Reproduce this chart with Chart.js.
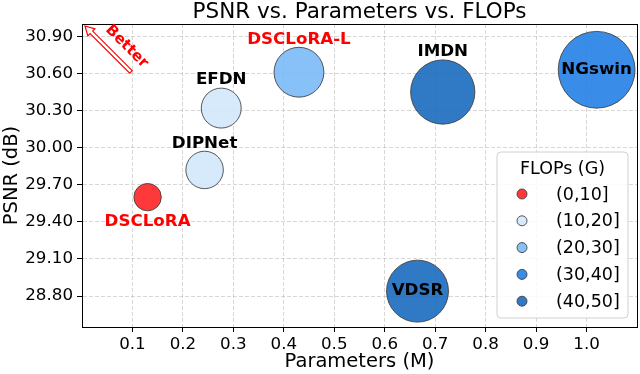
<!DOCTYPE html>
<html lang="en">
<head>
    <meta charset="UTF-8">
    <title>PSNR vs. Parameters vs. FLOPs</title>
    <script src="https://cdn.jsdelivr.net/npm/chart.js"></script>
    <style>
        body { margin: 0; background: white; }
        canvas { display: block; }
    </style>
</head>
<body>
    <canvas id="bubbleChart" width="640" height="374"></canvas>

    <script>
        // Models, parameters (M), PSNR (dB) and FLOPs bin index
        const models = ['DSCLoRA', 'DIPNet', 'EFDN', 'DSCLoRA-L', 'IMDN', 'NGswin', 'VDSR'];
        const params = [0.13, 0.243, 0.276, 0.43, 0.715, 1.02, 0.665];
        const psnr = [29.60, 29.82, 30.32, 30.61, 30.45, 30.63, 28.84];
        const modelBin = [0, 1, 1, 2, 4, 3, 4];

        const flopBins = ['(0,10]', '(10,20]', '(20,30]', '(30,40]', '(40,50]'];
        const xTicks = [0.1, 0.2, 0.3, 0.4, 0.5, 0.6, 0.7, 0.8, 0.9, 1.0];
        const yTicks = [28.80, 29.10, 29.40, 29.70, 30.00, 30.30, 30.60, 30.90];

        // styling
        const binColors = [
            'rgba(255,36,36,0.9)',
            'rgba(209,232,251,0.9)',
            'rgba(123,185,247,0.9)',
            'rgba(36,129,230,0.9)',
            'rgba(25,106,191,0.9)'
        ];
        const ourModels = ['DSCLoRA', 'DSCLoRA-L'];
        const labelPlace = { 'DSCLoRA': 'below', 'NGswin': 'center', 'VDSR': 'center' };
        const edgeColor = 'rgba(60,60,60,0.85)';
        const FONT = "'DejaVu Sans', sans-serif";
        Chart.defaults.font.family = FONT;
        Chart.defaults.color = 'black';

        // bubble radius grows with the parameter count
        const radiusOf = p => 38 * Math.sqrt(p);

        const datasets = flopBins.map((bin, b) => ({
            label: bin,
            data: models.map((m, i) => i).filter(i => modelBin[i] === b)
                .map(i => ({ x: params[i], y: psnr[i], r: radiusOf(params[i]) })),
            backgroundColor: binColors[b],
            borderColor: edgeColor,
            borderWidth: 1
        }));

        // labels next to / inside the bubbles
        const bubbleLabels = {
            id: 'bubbleLabels',
            afterDatasetsDraw(chart) {
                const ctx = chart.ctx;
                const xs = chart.scales.x, ys = chart.scales.y;
                ctx.save();
                ctx.font = 'bold 16.7px ' + FONT;
                ctx.textAlign = 'center';
                ctx.textBaseline = 'middle';
                models.forEach((m, i) => {
                    const px = xs.getPixelForValue(params[i]);
                    const py = ys.getPixelForValue(psnr[i]);
                    const r = radiusOf(params[i]);
                    const place = labelPlace[m] || 'above';
                    let ty = py;
                    if (place === 'above') ty = py - r - 8;
                    if (place === 'below') ty = py + r + 11;
                    ctx.fillStyle = ourModels.includes(m) ? 'red' : 'black';
                    ctx.fillText(m, px, ty);
                });
                ctx.restore();
            }
        };

        // frame, "Better" arrow and the FLOPs legend
        const decorations = {
            id: 'decorations',
            afterDraw(chart) {
                const ctx = chart.ctx;
                const a = chart.chartArea;
                ctx.save();
                ctx.strokeStyle = 'black';
                ctx.lineWidth = 1;
                ctx.strokeRect(a.left + 0.5, a.top + 0.5, a.right - a.left, a.bottom - a.top);

                // hollow arrow pointing to the upper left
                ctx.translate(a.left + 3, a.top + 2);
                ctx.rotate(Math.PI / 4);
                const len = 65, hw = 1.8, headW = 5, headL = 9;
                ctx.beginPath();
                ctx.moveTo(0, 0);
                ctx.lineTo(headL, -headW);
                ctx.lineTo(headL, -hw);
                ctx.lineTo(len, -hw);
                ctx.lineTo(len, hw);
                ctx.lineTo(headL, hw);
                ctx.lineTo(headL, headW);
                ctx.closePath();
                ctx.fillStyle = 'white';
                ctx.fill();
                ctx.strokeStyle = 'red';
                ctx.lineWidth = 1.2;
                ctx.stroke();
                ctx.font = 'bold 15px ' + FONT;
                ctx.fillStyle = 'red';
                ctx.textAlign = 'center';
                ctx.textBaseline = 'middle';
                ctx.fillText('Better', 44, -15);
                ctx.setTransform(1, 0, 0, 1, 0, 0);

                // legend box
                const lx = 497, ly = 152, lw = 131, lh = 166;
                ctx.beginPath();
                ctx.roundRect(lx, ly, lw, lh, 4);
                ctx.fillStyle = 'rgba(255,255,255,0.85)';
                ctx.fill();
                ctx.strokeStyle = '#d0d0d0';
                ctx.lineWidth = 1;
                ctx.stroke();
                ctx.font = '17.5px ' + FONT;
                ctx.fillStyle = 'black';
                ctx.textAlign = 'center';
                ctx.textBaseline = 'middle';
                ctx.fillText('FLOPs (G)', lx + lw / 2, ly + 17);
                ctx.textAlign = 'left';
                flopBins.forEach((bin, b) => {
                    const y = 194 + b * 26.8;
                    ctx.beginPath();
                    ctx.arc(522, y, 5, 0, Math.PI * 2);
                    ctx.fillStyle = binColors[b];
                    ctx.fill();
                    ctx.strokeStyle = edgeColor;
                    ctx.stroke();
                    ctx.fillStyle = 'black';
                    ctx.fillText(bin, 556, y + 1);
                });
                ctx.restore();
            }
        };

        const gridStyle = {
            color: 'rgba(170,170,170,0.6)',
            lineWidth: 0.8,
            tickLength: 5,
            tickColor: 'black',
            tickWidth: 1
        };

        new Chart(document.getElementById('bubbleChart'), {
            type: 'bubble',
            data: { datasets: datasets },
            options: {
                responsive: false,
                animation: false,
                layout: { autoPadding: false, padding: { left: 0, right: 3, top: 0, bottom: 0 } },
                plugins: {
                    legend: { display: false },
                    tooltip: { enabled: false },
                    title: {
                        display: true,
                        text: 'PSNR vs. Parameters vs. FLOPs',
                        fullSize: false,
                        color: 'black',
                        font: { size: 21.5, weight: 'normal', lineHeight: 1.0 },
                        padding: { top: 2, bottom: 0.5 }
                    }
                },
                scales: {
                    x: {
                        type: 'linear',
                        min: 0,
                        max: 1.1,
                        afterBuildTicks: s => { s.ticks = xTicks.map(v => ({ value: v })); },
                        afterFit: s => { s.height = 47; },
                        ticks: {
                            font: { size: 16.7 },
                            color: 'black',
                            padding: 3,
                            maxRotation: 0,
                            callback: v => Number(v).toFixed(1)
                        },
                        grid: gridStyle,
                        border: { display: true, color: 'black', width: 1, dash: [4, 2] },
                        title: {
                            display: true,
                            text: 'Parameters (M)',
                            color: 'black',
                            font: { size: 19.5 },
                            padding: { top: 0, bottom: 0 }
                        }
                    },
                    y: {
                        type: 'linear',
                        min: 28.55,
                        max: 31.0,
                        afterBuildTicks: s => { s.ticks = yTicks.map(v => ({ value: v })); },
                        afterFit: s => { s.width = 82; },
                        ticks: {
                            font: { size: 16.7 },
                            color: 'black',
                            padding: 4,
                            callback: v => Number(v).toFixed(2)
                        },
                        grid: gridStyle,
                        border: { display: true, color: 'black', width: 1, dash: [4, 2] },
                        title: {
                            display: true,
                            text: 'PSNR (dB)',
                            color: 'black',
                            font: { size: 19.5 },
                            padding: { top: 0, bottom: 0 }
                        }
                    }
                }
            },
            plugins: [bubbleLabels, decorations]
        });
    </script>
</body>
</html>
